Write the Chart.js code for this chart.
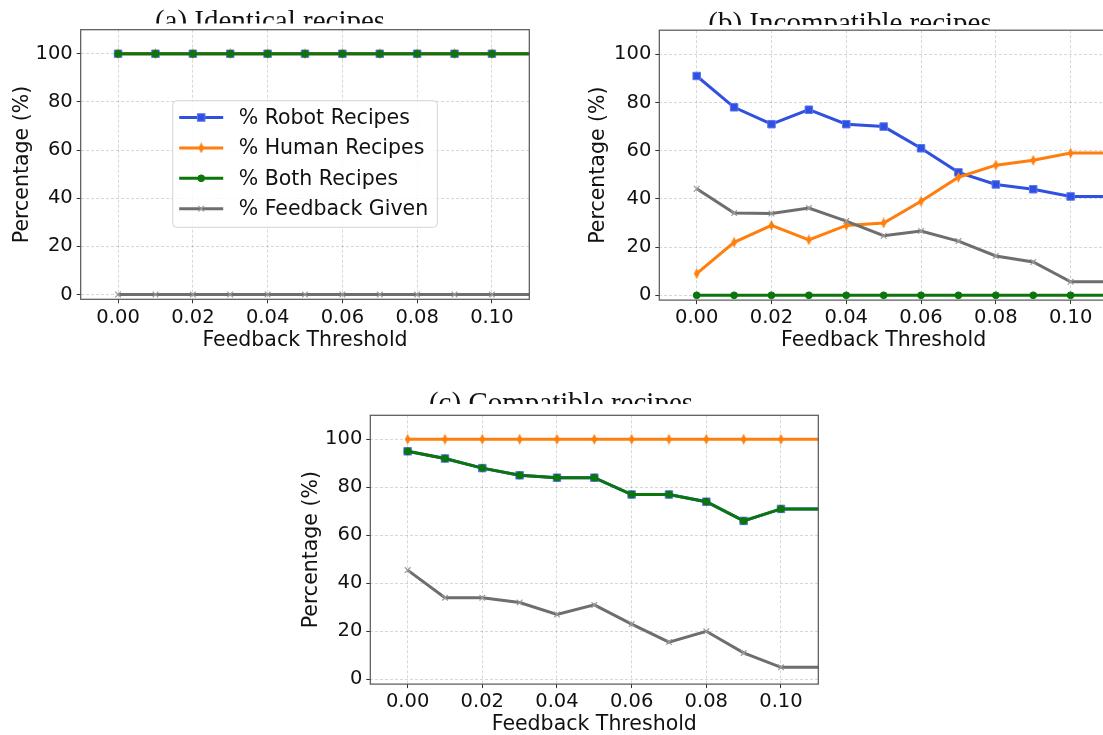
<!DOCTYPE html>
<html>
<head>
<meta charset="utf-8">
<title>Feedback threshold</title>
<script src="https://cdn.jsdelivr.net/npm/chart.js@4.4.1/dist/chart.umd.min.js"></script>
<style>
  html, body { margin: 0; padding: 0; background: #fff; }
  body { width: 1103px; height: 735px; overflow: hidden; position: relative; }
  canvas { position: absolute; }
</style>
</head>
<body>
<canvas id="panelA" width="560" height="370" style="left:0;top:0"></canvas>
<canvas id="panelB" width="560" height="370" style="left:560px;top:0"></canvas>
<canvas id="panelC" width="560" height="370" style="left:280px;top:380px"></canvas>
<script>
// --- Data ---
// last threshold lies past the visible axis, the lines run flat to the edge
const thresholds = [0.00, 0.01, 0.02, 0.03, 0.04, 0.05, 0.06, 0.07, 0.08, 0.09, 0.10, 0.12];
const xTickValues = [0.00, 0.02, 0.04, 0.06, 0.08, 0.10];
const yTickValues = [0, 20, 40, 60, 80, 100];
const seriesNames = ['% Robot Recipes', '% Human Recipes', '% Both Recipes', '% Feedback Given'];
const panelTitles = ['(a) Identical recipes', '(b) Incompatible recipes', '(c) Compatible recipes'];

// (a) identical recipes
const robotA    = [100, 100, 100, 100, 100, 100, 100, 100, 100, 100, 100, 100];
const humanA    = [100, 100, 100, 100, 100, 100, 100, 100, 100, 100, 100, 100];
const bothA     = [100, 100, 100, 100, 100, 100, 100, 100, 100, 100, 100, 100];
const feedbackA = [0, 0, 0, 0, 0, 0, 0, 0, 0, 0, 0, 0];

// (b) incompatible recipes
const robotB    = [91, 78, 71, 77, 71, 70, 61, 51, 46, 44, 41, 41];
const humanB    = [9, 22, 29, 23, 29, 30, 39, 49, 54, 56, 59, 59];
const bothB     = [0, 0, 0, 0, 0, 0, 0, 0, 0, 0, 0, 0];
const feedbackB = [44.2, 34.1, 33.9, 36.2, 30.8, 24.7, 26.7, 22.5, 16.3, 13.8, 5.6, 5.6];

// (c) compatible recipes
const robotC    = [95, 92, 88, 85, 84, 84, 77, 77, 74, 66, 71, 71];
const humanC    = [100, 100, 100, 100, 100, 100, 100, 100, 100, 100, 100, 100];
const bothC     = [95, 92, 88, 85, 84, 84, 77, 77, 74, 66, 71, 71];
const feedbackC = [45.5, 34, 34, 32, 27, 31, 23, 15.5, 20, 11, 5, 5];

// --- Styles ---
const X_MIN = -0.01, X_MAX = 0.11, Y_MIN = -2, Y_MAX = 110;
const TEXT = '#111';
Chart.defaults.font.family = '"DejaVu Sans", sans-serif';
Chart.defaults.color = TEXT;

function thinDiamond(color) {
  const c = document.createElement('canvas');
  c.width = 7; c.height = 11;
  const g = c.getContext('2d');
  g.fillStyle = color;
  g.beginPath();
  g.moveTo(3.5, 0); g.lineTo(6.3, 5.5); g.lineTo(3.5, 11); g.lineTo(0.7, 5.5);
  g.closePath();
  g.fill();
  return c;
}

const seriesStyles = [
  { color: '#3050e0', style: 'rect',   radius: 5.3, fill: '#3050e0', edge: '#5a78f0', edgeW: 1 },
  { color: '#ff7f0e', style: thinDiamond('#ff7f0e'), radius: 4, fill: '#ff7f0e', edge: '#ff7f0e', edgeW: 0 },
  { color: '#0b760b', style: 'circle', radius: 3.4, fill: '#0b760b', edge: '#0b760b', edgeW: 1 },
  { color: '#6e6e6e', style: 'crossRot', radius: 4, fill: '#9a9a9a', edge: '#9a9a9a', edgeW: 1.2 }
];

function buildDatasets(values) {
  return values.map((vals, i) => {
    const s = seriesStyles[i];
    return {
      label: seriesNames[i],
      data: thresholds.map((t, j) => ({ x: t, y: vals[j] })),
      borderColor: s.color,
      backgroundColor: s.color,
      borderWidth: 3,
      pointStyle: s.style,
      pointRadius: s.radius,
      pointBackgroundColor: s.fill,
      pointBorderColor: s.edge,
      pointBorderWidth: s.edgeW,
      tension: 0,
      clip: 0,
      order: values.length - i   // later series on top, like matplotlib
    };
  });
}

// --- Plugins ---
const framePlugin = {
  id: 'frame',
  afterDraw(chart) {
    const { ctx, chartArea: a } = chart;
    ctx.save();
    ctx.strokeStyle = '#555';
    ctx.lineWidth = 1.2;
    ctx.strokeRect(a.left, a.top, a.right - a.left, a.bottom - a.top);
    ctx.restore();
  }
};

// subplot caption, cut off at the bottom as in the original figure
const cutTitlePlugin = {
  id: 'cutTitle',
  afterDraw(chart, args, opts) {
    const ctx = chart.ctx;
    const size = 29;
    ctx.save();
    ctx.beginPath();
    ctx.rect(0, 0, chart.width, opts.cut);
    ctx.clip();
    ctx.font = size + 'px "Liberation Serif", serif';
    ctx.fillStyle = TEXT;
    ctx.textAlign = 'center';
    ctx.textBaseline = 'alphabetic';
    ctx.fillText(opts.text, opts.cx, opts.capTop + size * 0.66);
    ctx.restore();
  }
};

function drawMarker(ctx, ds, x, y) {
  const st = ds.pointStyle, r = ds.pointRadius;
  ctx.save();
  ctx.fillStyle = ds.pointBackgroundColor;
  ctx.strokeStyle = ds.pointBorderColor;
  ctx.lineWidth = ds.pointBorderWidth;
  if (typeof st === 'object') {
    ctx.drawImage(st, x - st.width / 2, y - st.height / 2);
  } else if (st === 'rect') {
    const h = Math.SQRT1_2 * r;
    ctx.fillRect(x - h, y - h, 2 * h, 2 * h);
    if (ds.pointBorderWidth) ctx.strokeRect(x - h, y - h, 2 * h, 2 * h);
  } else if (st === 'circle') {
    ctx.beginPath();
    ctx.arc(x, y, r, 0, Math.PI * 2);
    ctx.fill();
    if (ds.pointBorderWidth) ctx.stroke();
  } else if (st === 'crossRot') {
    const h = Math.SQRT1_2 * r;
    ctx.beginPath();
    ctx.moveTo(x - h, y - h); ctx.lineTo(x + h, y + h);
    ctx.moveTo(x - h, y + h); ctx.lineTo(x + h, y - h);
    ctx.stroke();
  }
  ctx.restore();
}

function roundRect(ctx, x, y, w, h, r) {
  ctx.beginPath();
  ctx.moveTo(x + r, y);
  ctx.arcTo(x + w, y, x + w, y + h, r);
  ctx.arcTo(x + w, y + h, x, y + h, r);
  ctx.arcTo(x, y + h, x, y, r);
  ctx.arcTo(x, y, x + w, y, r);
  ctx.closePath();
}

const boxLegendPlugin = {
  id: 'boxLegend',
  afterDraw(chart, args, o) {
    const ctx = chart.ctx;
    ctx.save();
    roundRect(ctx, o.x, o.y, o.w, o.h, 4);
    ctx.fillStyle = 'rgba(255,255,255,0.85)';
    ctx.fill();
    ctx.strokeStyle = '#d4d4d4';
    ctx.lineWidth = 1;
    ctx.stroke();
    ctx.font = '20.5px "DejaVu Sans", sans-serif';
    ctx.textBaseline = 'middle';
    ctx.textAlign = 'left';
    chart.data.datasets.forEach((ds, i) => {
      const y = o.firstRow + i * o.rowStep;
      ctx.strokeStyle = ds.borderColor;
      ctx.lineWidth = 3;
      ctx.beginPath();
      ctx.moveTo(o.x + 6.5, y);
      ctx.lineTo(o.x + 50.5, y);
      ctx.stroke();
      drawMarker(ctx, ds, o.x + 28.5, y);
      ctx.fillStyle = TEXT;
      ctx.fillText(ds.label, o.x + 66, y + 1);
    });
    ctx.restore();
  }
};

// --- Panels ---
function makePanel(id, values, geo) {
  return new Chart(document.getElementById(id), {
    type: 'line',
    data: { datasets: buildDatasets(values) },
    options: {
      responsive: false,
      animation: false,
      events: [],
      layout: { padding: { left: 0, top: geo.top, right: geo.right, bottom: geo.bottom } },
      plugins: {
        legend: { display: false },
        tooltip: { enabled: false },
        cutTitle: geo.title,
        boxLegend: geo.legend || false
      },
      scales: {
        x: {
          type: 'linear',
          min: X_MIN,
          max: X_MAX,
          afterFit: s => { s.height = 60; },
          afterBuildTicks: s => { s.ticks = xTickValues.map(v => ({ value: v })); },
          ticks: {
            callback: v => Number(v).toFixed(2),
            font: { size: 19.5, lineHeight: 1 },
            padding: 4.5,
            maxRotation: 0,
            autoSkip: false,
            color: TEXT
          },
          grid: {
            color: 'rgba(0,0,0,0.2)', lineWidth: 0.8,
            tickLength: 4, tickColor: '#333', tickWidth: 1, tickBorderDash: []
          },
          border: { display: false, dash: [3, 2] },
          title: {
            display: true, text: 'Feedback Threshold', color: TEXT,
            font: { size: 20.5 }, padding: { top: 0, bottom: 6.8 }
          }
        },
        y: {
          min: Y_MIN,
          max: Y_MAX,
          afterFit: s => { s.width = geo.yW; },
          afterBuildTicks: s => { s.ticks = yTickValues.map(v => ({ value: v })); },
          ticks: { font: { size: 19.5 }, padding: 4, color: TEXT },
          grid: {
            color: 'rgba(0,0,0,0.2)', lineWidth: 0.8,
            tickLength: 4, tickColor: '#333', tickWidth: 1, tickBorderDash: []
          },
          border: { display: false, dash: [3, 2] },
          title: {
            display: true, text: 'Percentage (%)', color: TEXT,
            font: { size: 20.5 }, padding: { top: geo.yTitlePad, bottom: 0 }
          }
        }
      }
    },
    plugins: [framePlugin, cutTitlePlugin, boxLegendPlugin]
  });
}

makePanel('panelA', [robotA, humanA, bothA, feedbackA], {
  top: 29.7, right: 30.7, bottom: 10.7, yW: 80.7, yTitlePad: 10.2,
  title: { text: panelTitles[0], cx: 270, capTop: 10.5, cut: 23.5 },
  legend: { x: 172.7, y: 100.7, w: 264.6, h: 126.6, firstRow: 117.5, rowStep: 30.4 }
});

makePanel('panelB', [robotB, humanB, bothB, feedbackB], {
  top: 30.2, right: 12, bottom: 9.9, yW: 99.3, yTitlePad: 26.5,
  title: { text: panelTitles[1], cx: 290, capTop: 13, cut: 25 }
});

makePanel('panelC', [robotC, humanC, bothC, feedbackC], {
  top: 35.3, right: 21.7, bottom: 5.9, yW: 90.3, yTitlePad: 19.8,
  title: { text: panelTitles[2], cx: 281, capTop: 12.5, cut: 24 }
});
</script>
</body>
</html>
